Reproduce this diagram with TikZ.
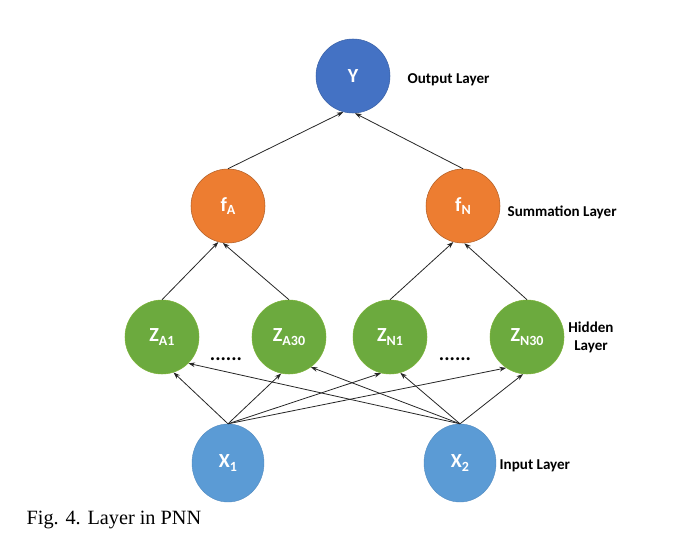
\documentclass[tikz,border=0pt]{standalone}
\usepackage{fontspec}
\setmainfont{Liberation Serif}
\newfontfamily\carl{Carlito}
\usetikzlibrary{shapes.geometric,arrows.meta}
\definecolor{outblue}{RGB}{68,114,196}
\definecolor{sumorange}{RGB}{237,125,49}
\definecolor{hidgreen}{RGB}{108,170,62}
\definecolor{inblue}{RGB}{91,155,213}
\newcommand{\sbx}[1]{\raisebox{-0.35ex}{\fontsize{10.5}{10}\selectfont #1}}
\tikzset{
  neuron/.style={circle, minimum size=55.5pt, inner sep=0pt, text=white,
    font=\carl\bfseries\fontsize{15}{15}\selectfont},
  outn/.style={neuron, fill=outblue, draw=outblue!85!black, line width=0.4pt},
  sumn/.style={neuron, fill=sumorange, draw=sumorange!75!black, line width=0.4pt},
  hidn/.style={neuron, fill=hidgreen, draw=hidgreen!90!yellow, line width=0.4pt},
  inn/.style={ellipse, minimum width=54pt, minimum height=58.5pt, inner sep=0pt,
    fill=inblue, draw=inblue!90!black, line width=0.3pt, text=white,
    font=\carl\bfseries\fontsize{15}{15}\selectfont},
  lbl/.style={font=\carl\bfseries\fontsize{11.3}{13.5}\selectfont, anchor=west, align=center},
  conn/.style={-{Stealth[length=5pt,width=3.5pt]}, line width=0.6pt, draw=black!85},
  dots/.style={font=\carl\bfseries\fontsize{15}{15}\selectfont}
}
\begin{document}
\begin{tikzpicture}[x=0.75pt,y=-0.75pt]
\useasboundingbox (0,0) rectangle (674,546);
% nodes
\node[outn] (Y) at (353,76) {Y};
\node[sumn] (fA) at (228,206) {f\sbx{A}};
\node[sumn] (fN) at (463,206) {f\sbx{N}};
\node[hidn] (ZA1) at (162,337) {Z\sbx{A1}};
\node[hidn] (ZA30) at (289,337) {Z\sbx{A30}};
\node[hidn] (ZN1) at (390,337) {Z\sbx{N1}};
\node[hidn] (ZN30) at (527,337) {Z\sbx{N30}};
\node[inn] (X1) at (228,463) {X\sbx{1}};
\node[inn] (X2) at (460,463) {X\sbx{2}};
% dots
\node[dots] (d1) at (226,359) {......};
\node[dots] (d2) at (455,359) {......};
% labels
\node[lbl] (lout) at (403,80) {Output Layer};
\node[lbl] (lsum) at (503,212) {Summation Layer};
\node[lbl, anchor=center] (lhid) at (591,337) {Hidden\\Layer};
\node[lbl] (lin) at (495,466) {Input Layer};
\node[font=\fontsize{15.2}{17}\selectfont, anchor=west] (cap) at (22,520) {Fig. 4. Layer in PNN};
% connectors input -> hidden
\draw[conn] (X1.north) -- (ZA1.-72);
\draw[conn] (X2.north) -- (ZA1.-45);
\draw[conn] (X1.north) -- (ZA30.-102);
\draw[conn] (X2.north) -- (ZA30.-54);
\draw[conn] (X1.north) -- (ZN1.-104);
\draw[conn] (X2.north) -- (ZN1.-74);
\draw[conn] (X1.north) -- (ZN30.-124);
\draw[conn] (X2.north) -- (ZN30.-96);
% hidden -> summation
\draw[conn] (ZA1.north) -- (fA.-105);
\draw[conn] (ZA30.north) -- (fA.-98);
\draw[conn] (ZN1.north) -- (fN.-105);
\draw[conn] (ZN30.north) -- (fN.-88);
% summation -> output
\draw[conn] (fA.north) -- (Y.-105);
\draw[conn] (fN.north) -- (Y.-87);
\end{tikzpicture}
\end{document}
